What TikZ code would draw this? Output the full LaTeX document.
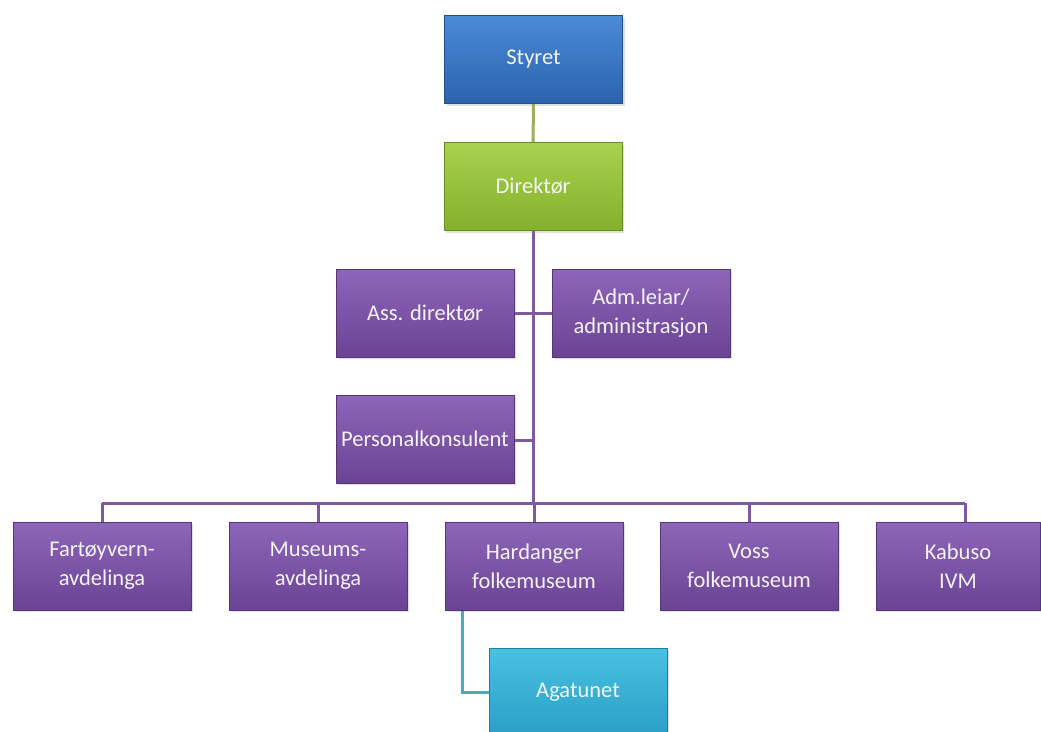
\documentclass[tikz,border=0pt]{standalone}
\usepackage{fontspec}
\setmainfont{Carlito}
\usetikzlibrary{shadows,backgrounds}
\definecolor{blueT}{HTML}{4A8BD6}
\definecolor{blueB}{HTML}{2C62AE}
\definecolor{greenT}{HTML}{A8D24E}
\definecolor{greenB}{HTML}{84B02C}
\definecolor{purpT}{HTML}{8E66B9}
\definecolor{purpB}{HTML}{6A4395}
\definecolor{cyanT}{HTML}{48C2E2}
\definecolor{cyanB}{HTML}{2C9EC6}
\definecolor{lineG}{HTML}{9BAF5F}
\definecolor{lineP}{HTML}{7B5A9E}
\definecolor{lineC}{HTML}{4BA8C8}
\definecolor{txt}{HTML}{F4F4F4}
\begin{document}
\begin{tikzpicture}[x=1pt,y=-1pt,
  box/.style={minimum width=178pt, minimum height=88pt, inner sep=2pt, align=center,
    text=txt, font=\fontsize{22.5}{29}\selectfont, line width=0.6pt,
    drop shadow={shadow xshift=2pt, shadow yshift=-2pt, opacity=0.25}},
  bluebox/.style={box, top color=blueT, bottom color=blueB, draw=blueB!80!black},
  greenbox/.style={box, top color=greenT, bottom color=greenB, draw=greenB!80!black},
  purpbox/.style={box, top color=purpT, bottom color=purpB, draw=purpB!80!black},
  cyanbox/.style={box, top color=cyanT, bottom color=cyanB, draw=cyanB!80!black},
  gl/.style={draw=lineG, line width=3pt},
  pl/.style={draw=lineP, line width=3pt},
  cl/.style={draw=lineC, line width=3pt}]
\clip (0,0) rectangle (1041,731);
% boxes
\node[bluebox] (sty) at (533.5,59.5) {Styret};
\node[greenbox] (dir) at (533,186.5) {Direktør};
\node[purpbox] (ass) at (425,313) {Ass. direktør};
\node[purpbox] (adm) at (641,313) {Adm.leiar/\\administrasjon};
\node[purpbox] (pers) at (425,439) {Personalkonsulent};
\node[purpbox] (fart) at (102,566) {Fartøyvern-\\avdelinga};
\node[purpbox] (mus) at (318,566) {Museums-\\avdelinga};
\node[purpbox] (hard) at (534,566) {Hardanger\\folkemuseum};
\node[purpbox] (voss) at (749,566) {Voss\\folkemuseum};
\node[purpbox, minimum width=164pt] (kab) at (958,566) {Kabuso\\IVM};
\node[cyanbox] (aga) at (578,692) {Agatunet};
\coordinate (bus) at (533,503);
\coordinate (hardS) at ([xshift=-72pt]hard.south);
\coordinate (kabN) at ([xshift=7pt]kab.north);
% connectors
\begin{scope}[on background layer]
\fill[white] (0,0) rectangle (1041,731);
\draw[gl] (sty) -- (dir);
\draw[pl] (fart.north |- bus) -- (kabN |- bus);
\draw[pl] (dir.south) -- (bus);
\draw[pl] (ass.east) -- (adm.west);
\draw[pl] ([yshift=-1pt]pers.east) -- ([yshift=-1pt]pers.east -| dir.south);
\foreach \n in {fart,mus,hard,voss} \draw[pl] (\n.north) -- (\n.north |- bus);
\draw[pl] (kabN) -- (kabN |- bus);
\draw[cl] (hardS) |- (aga.west);
\end{scope}
\end{tikzpicture}
\end{document}
